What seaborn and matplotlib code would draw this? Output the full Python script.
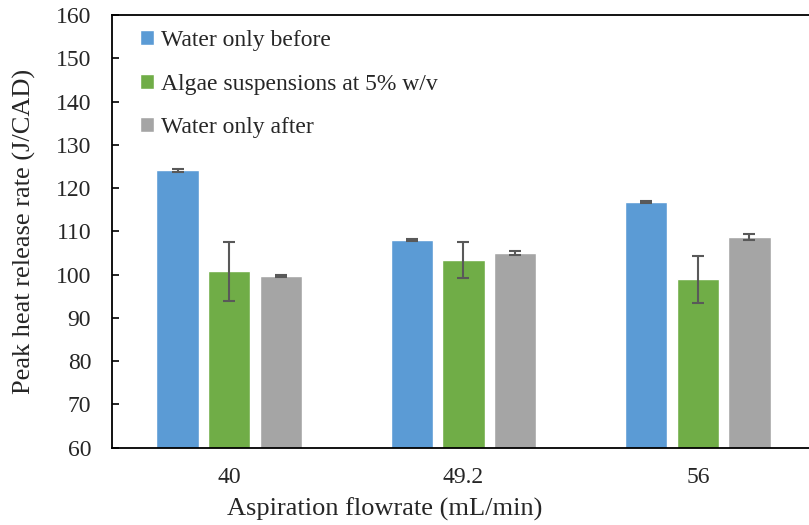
import matplotlib
matplotlib.use("Agg")
import matplotlib.pyplot as plt
import seaborn as sns
import pandas as pd
import numpy as np

# Peak heat release rate per aspiration flowrate
flowrates = ["40", "49.2", "56"]
series = ["Water only before", "Algae suspensions at 5% w/v", "Water only after"]
water_before = [124.1, 107.9, 116.7]
algae_5pct = [100.7, 103.4, 98.9]
water_after = [99.7, 105.0, 108.7]
err_water_before = [0.3, 0.2, 0.2]
err_algae_5pct = [6.8, 4.2, 5.4]
err_water_after = [0.2, 0.4, 0.7]

colors = ["#5B9BD5", "#70AD47", "#A5A5A5"]

values = [water_before, algae_5pct, water_after]
errors = [err_water_before, err_algae_5pct, err_water_after]

df = pd.DataFrame({
    "flowrate": [f for _ in series for f in flowrates],
    "series": [s for s in series for _ in flowrates],
    "value": [v for vals in values for v in vals],
    "err": [e for errs in errors for e in errs],
})

sns.set_style("white")
plt.rcParams["font.family"] = ["Liberation Serif", "DejaVu Serif"]

fig = plt.figure(figsize=(8.09, 5.25), dpi=100)
ax = fig.add_axes([0.1384, 0.1476, 0.869, 0.8238])

sns.barplot(data=df, x="flowrate", y="value", hue="series", order=flowrates,
            hue_order=series, palette=colors, width=0.66, gap=0.18,
            errorbar=None, saturation=1, ax=ax)

# error bars at the centre of each drawn bar
for container, s in zip(ax.containers, series):
    sub = df[df["series"] == s].set_index("flowrate").loc[flowrates]
    xs = [p.get_x() + p.get_width() / 2 for p in container.patches]
    ax.errorbar(xs, sub["value"].values, yerr=sub["err"].values, fmt="none",
                ecolor="#595959", elinewidth=1.5, capsize=4.3, capthick=1.5,
                zorder=5)

ax.set_ylim(60, 160)
ax.set_xlim(-0.5, 2.5)
ax.set_yticks(np.arange(60, 161, 10))
ax.tick_params(axis="y", direction="in", length=5, width=1.2, color="black",
               labelsize=17, pad=15, left=True)
ax.tick_params(axis="x", length=0, labelsize=17, pad=14)

for side in ["left", "bottom", "top", "right"]:
    ax.spines[side].set_color("black")
    ax.spines[side].set_linewidth(1.3)

ax.set_xlabel("Aspiration flowrate (mL/min)", fontsize=19)
ax.xaxis.set_label_coords((385 - 112) / 703, -0.115)
ax.set_ylabel("Peak heat release rate (J/CAD)", fontsize=19)
ax.yaxis.set_label_coords(-(112 - 36) / 703, 0.5)

leg = ax.legend(loc="upper left", bbox_to_anchor=(0.01, 1.014), frameon=False,
                fontsize=17, handlelength=0.6, handleheight=0.6,
                handletextpad=0.3, labelspacing=0.95)

fig.savefig("out.png", dpi=100)
